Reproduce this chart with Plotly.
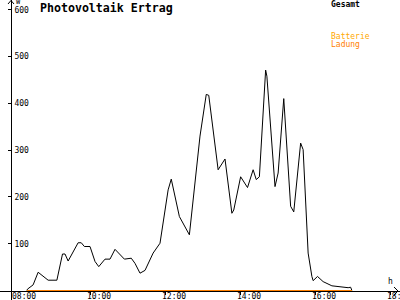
import plotly.graph_objects as go

# ---- data ----
times = ["08:19", "08:20", "08:24", "08:29", "08:37", "08:53", "09:07", "09:16", "09:20", "09:25",
         "09:41", "09:46", "09:51", "10:00", "10:08", "10:14", "10:24", "10:32", "10:40",
         "10:55", "11:06", "11:12", "11:20", "11:28", "11:41", "11:52", "12:05", "12:10",
         "12:23", "12:32", "12:39", "12:56", "13:06", "13:10", "13:25", "13:36", "13:47",
         "13:50", "14:01", "14:12", "14:21", "14:26", "14:31", "14:41", "14:43", "14:56",
         "15:01", "15:10", "15:21", "15:26", "15:37", "15:41", "15:49", "15:55", "15:57",
         "16:04", "16:13", "16:27", "16:43", "16:53", "16:57", "16:59"]
gesamt = [0, 3, 7, 12, 39, 22, 22, 78, 78, 63,
          102, 102, 94, 94, 62, 51, 67, 67, 88,
          67, 69, 58, 37, 43, 80, 101, 215, 238,
          158, 137, 119, 330, 419, 417, 258, 281, 165,
          172, 243, 220, 258, 237, 243, 471, 458, 222,
          251, 410, 180, 168, 315, 301, 80, 30, 21,
          30, 19, 10, 7, 6, 7, 0]
batterie = [0] * len(times)
ladung = [0] * len(times)

tick_hours = [8, 10, 12, 14, 16, 18]
tick_text = ["08:00", "10:00", "12:00", "14:00", "16:00", "18:00"]
y_ticks = [100, 200, 300, 400, 500, 600]

title = "Photovoltaik Ertrag"
legend_names = ["Gesamt", "Batterie", "Ladung"]

# ---- styling ----
W, H = 400, 300
FONT = "DejaVu Sans Mono"
C_GES = "black"
C_BAT = "#FFA800"
C_LAD = "#FF8000"


def to_h(s):
    h, m = s.split(":")
    return int(h) + int(m) / 60.0


hours = [to_h(s) for s in times]

# pixel mapping
x0_px, px_per_h = 15.0, 37.5
y0_px, px_per_u = 290.5, 0.468
xr = [8 - x0_px / px_per_h, 8 + (W - x0_px) / px_per_h]
yr = [-(H - y0_px) / px_per_u, y0_px / px_per_u]
yaxis_px = 11
xpos = (H - y0_px) / H
ypos = yaxis_px / W

fig = go.Figure()
fig.add_trace(go.Scatter(x=hours, y=gesamt, mode="lines", line=dict(color=C_GES, width=1),
                         name=legend_names[0]))
fig.add_trace(go.Scatter(x=hours, y=batterie, mode="lines", line=dict(color=C_BAT, width=1),
                         name=legend_names[1]))
fig.add_trace(go.Scatter(x=hours, y=ladung, mode="lines", line=dict(color=C_LAD, width=1.2),
                         name=legend_names[2]))

tickfont = dict(family=FONT, size=8, color="black")
common = dict(showgrid=False, zeroline=False, automargin=False, fixedrange=True)
fig.update_layout(
    width=W, height=H, template="none",
    margin=dict(l=0, r=0, t=0, b=0),
    paper_bgcolor="white", plot_bgcolor="white",
    showlegend=False,
    xaxis=dict(range=xr, anchor="free", position=xpos, showline=True, linecolor="black",
               linewidth=1, ticks="outside", ticklen=3, tickcolor="black", tickwidth=1,
               tickvals=tick_hours, showticklabels=False, layer="below traces", **common),
    xaxis2=dict(range=xr, overlaying="x", anchor="free", position=xpos, showline=False,
                ticks="inside", ticklen=3, tickcolor="black", tickwidth=1,
                tickvals=tick_hours, showticklabels=False, **common),
    yaxis=dict(range=yr, anchor="free", position=ypos, showline=True, linecolor="black",
               linewidth=1, ticks="outside", ticklen=3, tickcolor="black", tickwidth=1,
               tickvals=y_ticks, tickfont=tickfont, ticklabelposition="inside",
               ticklabelstandoff=1, layer="below traces", **common),
    yaxis2=dict(range=yr, overlaying="y", anchor="free", position=ypos, showline=False,
                ticks="inside", ticklen=3, tickcolor="black", tickwidth=1,
                tickvals=y_ticks, showticklabels=False, **common),
)


def px(x):
    return x / W


def py(y):
    return 1 - y / H


# arrows (chevrons) at the ends of the axes
fig.add_shape(type="path", xref="paper", yref="paper",
              path=f"M {px(8)},{py(4)} L {px(11)},{py(0.5)} L {px(14)},{py(4)}",
              line=dict(color="black", width=1))
fig.add_shape(type="path", xref="paper", yref="paper",
              path=f"M {px(394)},{py(287)} L {px(398)},{py(291)} L {px(394)},{py(295)}",
              line=dict(color="black", width=1))

# x tick labels (left-aligned just before each tick)
for hv, tt in zip(tick_hours, tick_text):
    fig.add_annotation(x=hv, xref="x", y=py(296), yref="paper", text=tt, showarrow=False,
                       xanchor="left", yanchor="middle", xshift=-4, borderpad=0,
                       font=tickfont)

annos = [
    dict(text=title, x=px(39), y=py(8), xanchor="left", yanchor="middle",
         font=dict(family=FONT, size=11.6, color="black", weight="bold")),
    dict(text="W", x=px(15), y=py(2), xanchor="left", yanchor="middle",
         font=dict(family=FONT, size=7, color="black")),
    dict(text="h", x=px(387), y=py(281), xanchor="left", yanchor="middle",
         font=dict(family=FONT, size=8, color="black")),
    dict(text=legend_names[0], x=px(330), y=py(4.5), xanchor="left", yanchor="middle",
         font=dict(family=FONT, size=8, color=C_GES, weight="bold")),
    dict(text=legend_names[1], x=px(330), y=py(36), xanchor="left", yanchor="middle",
         font=dict(family=FONT, size=8, color=C_BAT)),
    dict(text=legend_names[2], x=px(330), y=py(44), xanchor="left", yanchor="middle",
         font=dict(family=FONT, size=8, color=C_LAD)),
]
for a in annos:
    fig.add_annotation(xref="paper", yref="paper", showarrow=False, borderpad=0, **a)

fig.write_html("out.html", config={"displayModeBar": False})
